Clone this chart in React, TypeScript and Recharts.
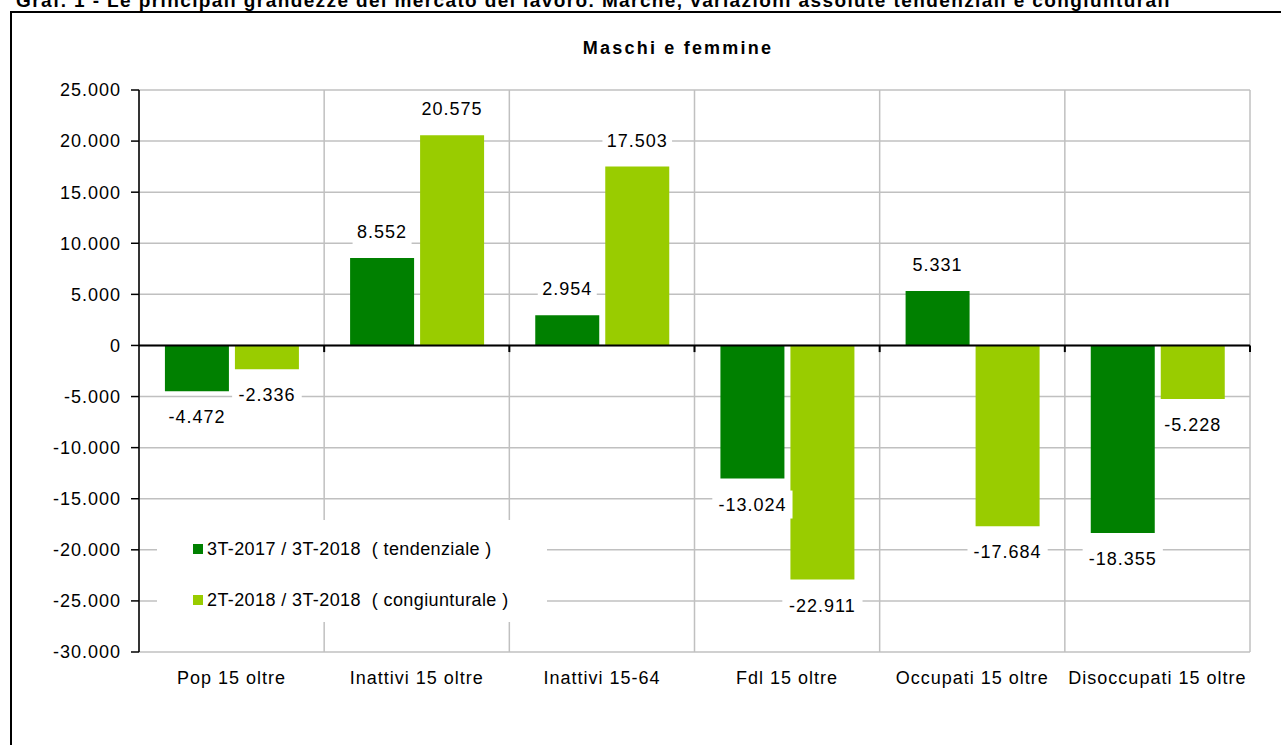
import React from 'react';
import { BarChart, Bar, XAxis, YAxis, CartesianGrid, ReferenceLine, LabelList, Legend } from 'recharts';

const categories = ['Pop 15 oltre', 'Inattivi 15 oltre', 'Inattivi 15-64', 'Fdl 15 oltre', 'Occupati 15 oltre', 'Disoccupati 15 oltre'];
const tendenziale = [-4472, 8552, 2954, -13024, 5331, -18355];
const congiunturale = [-2336, 20575, 17503, -22911, -17684, -5228];
const seriesNames = ['3T-2017 / 3T-2018  ( tendenziale )', '2T-2018 / 3T-2018  ( congiunturale )'];
const seriesColors = ['#008000', '#99cc00'];
const yTicks = [-30000, -25000, -20000, -15000, -10000, -5000, 0, 5000, 10000, 15000, 20000, 25000];
const boundaryTicks = [0, 1, 2, 3, 4, 5, 6];

// pos = category centre on a 0..6 scale, used only for the boundary grid axis
const data = categories.map((name, i) => ({ name, pos: i + 0.5, tend: tendenziale[i], cong: congiunturale[i] }));

const FONT = '"Liberation Sans", Arial, sans-serif';

const fmt = (v: number) => {
  const s = Math.abs(v).toString().replace(/\B(?=(\d{3})+(?!\d))/g, '.');
  return (v < 0 ? '-' : '') + s;
};

const BarLabel = (props: any) => {
  const { x, y, width, height, value } = props;
  const top = Math.min(y, y + height);
  const bottom = Math.max(y, y + height);
  const cy = value >= 0 ? top - 26 : bottom + 26;
  const cx = x + width / 2;
  const text = fmt(value);
  const w = text.length * 10.6 + 6;
  return (
    <g>
      <rect x={cx - w / 2} y={cy - 14} width={w} height={28} fill="#fff" />
      <text x={cx} y={cy} textAnchor="middle" dominantBaseline="central" fontSize={18} letterSpacing={1} fill="#000">
        {text}
      </text>
    </g>
  );
};

const LegendBox = () => (
  <div style={{ background: '#fff', width: 390, height: 102, boxSizing: 'border-box', paddingLeft: 36, paddingTop: 16, fontFamily: FONT }}>
    {seriesNames.map((n, i) => (
      <div key={n} style={{ display: 'flex', alignItems: 'center', height: 26, marginBottom: i === 0 ? 25 : 0 }}>
        <span style={{ width: 10, height: 10, background: seriesColors[i], marginRight: 4, display: 'inline-block' }} />
        <span style={{ fontSize: 18, letterSpacing: 0.4, whiteSpace: 'pre', color: '#000' }}>{n}</span>
      </div>
    ))}
  </div>
);

export default function App() {
  return (
    <div style={{ position: 'fixed', left: 0, top: 0, width: 1281, height: 745, overflow: 'hidden', background: '#fff', fontFamily: FONT }}>
      <div style={{ position: 'absolute', left: 16, top: -9, fontSize: 19, lineHeight: '19px', fontWeight: 'bold', letterSpacing: 1.4, whiteSpace: 'nowrap' }}>
        Graf. 1 - Le principali grandezze del mercato del lavoro. Marche, variazioni assolute tendenziali e congiunturali
      </div>
      <div style={{ position: 'absolute', left: 10, top: 11, width: 1320, height: 800, border: '2px solid #000' }} />
      <div style={{ position: 'absolute', left: 0, top: 38, width: 1356, textAlign: 'center', fontSize: 18, fontWeight: 'bold', letterSpacing: 2.2 }}>
        Maschi e femmine
      </div>
      <div style={{ position: 'absolute', left: 0, top: 0 }}>
        <BarChart
          width={1281}
          height={745}
          data={data}
          margin={{ top: 90, right: 31, left: 0, bottom: 53 }}
          barCategoryGap="14%"
          barGap={6}
          style={{ fontFamily: FONT }}
        >
          <XAxis xAxisId="grid" dataKey="pos" type="number" domain={[0, 6]} ticks={boundaryTicks} hide allowDataOverflow />
          <CartesianGrid xAxisId="grid" stroke="#c0c0c0" strokeWidth={1.5} />
          <XAxis
            xAxisId="cat"
            dataKey="name"
            height={40}
            axisLine={false}
            tickLine={false}
            tickSize={0}
            tickMargin={19}
            interval={0}
            tick={{ fontSize: 18, fill: '#000', letterSpacing: 1 }}
          />
          <YAxis
            width={139}
            domain={[-30000, 25000]}
            ticks={yTicks}
            tickFormatter={fmt}
            interval={0}
            axisLine={{ stroke: '#000', strokeWidth: 1.5 }}
            tickLine={{ stroke: '#000', strokeWidth: 1.5 }}
            tickSize={8}
            tickMargin={10}
            tick={{ fontSize: 18, fill: '#000', letterSpacing: 1 }}
          />
          <Legend
            layout="horizontal"
            verticalAlign="middle"
            align="center"
            content={() => <LegendBox />}
            wrapperStyle={{ left: 157, top: 520, width: 390, height: 102 }}
          />
          <Bar xAxisId="cat" dataKey="tend" name={seriesNames[0]} fill={seriesColors[0]} isAnimationActive={false}>
            <LabelList dataKey="tend" content={BarLabel} />
          </Bar>
          <Bar xAxisId="cat" dataKey="cong" name={seriesNames[1]} fill={seriesColors[1]} isAnimationActive={false}>
            <LabelList dataKey="cong" content={BarLabel} />
          </Bar>
          <ReferenceLine xAxisId="cat" y={0} stroke="#000" strokeWidth={2} />
          {boundaryTicks.slice(1).map((t) => (
            <ReferenceLine
              key={t}
              xAxisId="grid"
              segment={[{ x: t, y: 0 }, { x: t, y: -650 }]}
              stroke="#000"
              strokeWidth={2}
              ifOverflow="visible"
            />
          ))}
        </BarChart>
      </div>
    </div>
  );
}
